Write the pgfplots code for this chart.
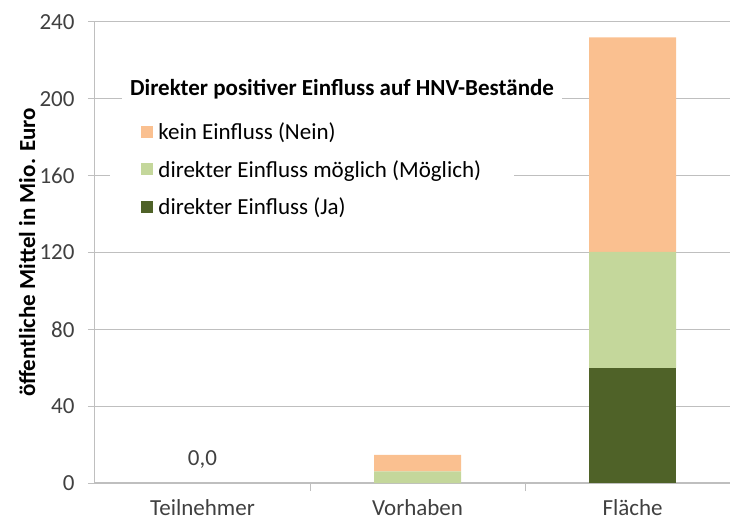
\documentclass[border=0pt]{standalone}
\usepackage{pgfplots}
\pgfplotsset{compat=1.18}
\usepackage{fontspec}
\setmainfont{Carlito}
\definecolor{nein}{HTML}{FAC090}
\definecolor{moegl}{HTML}{C4D79B}
\definecolor{ja}{HTML}{4F6228}
\definecolor{gridgray}{HTML}{BFBFBF}
\definecolor{ticktxt}{HTML}{404040}
\newcommand\cf{\fontsize{23bp}{27bp}\selectfont}

\begin{document}
\begin{tikzpicture}
\begin{axis}[
  name=ax,
  scale only axis,
  width=635bp, height=461bp,
  ybar stacked,
  bar width=87bp,
  xmin=-0.5, xmax=2.453, ymin=0, ymax=240,
  xtick={0,1,2},
  xticklabels={Teilnehmer,Vorhaben,Fläche},
  minor xtick={0.5,1.5},
  ytick={0,40,80,120,160,200,240},
  tick align=outside,
  major tick length=7bp, minor tick length=8bp,
  xtick style={draw=none},
  minor x tick style={draw=gridgray, line width=1bp},
  ytick style={draw=gridgray, line width=1bp},
  axis x line*=bottom, axis y line*=left,
  x axis line style={draw=gridgray, line width=1.6bp},
  y axis line style={draw=gridgray, line width=1bp},
  ymajorgrids,
  grid style={draw=gridgray, line width=1bp},
  /pgf/number format/assume math mode=true,
  tick label style={font=\cf, text=ticktxt},
  xticklabel style={yshift=-6bp},
  yticklabel style={xshift=-10bp},
  ylabel={öffentliche Mittel in Mio. Euro},
  ylabel style={at={(axis description cs:-0.107,0.5)}, anchor=center, font=\cf\bfseries},
  every axis plot/.append style={draw=none},
  reverse legend,
  legend cell align=left,
  legend style={at={(axis description cs:0.024,0.79)}, anchor=north west,
    draw=none, fill=white, font=\cf, row sep=15bp, inner xsep=31bp},
  legend image code/.code={\fill[#1] (0bp,-6bp) rectangle (12bp,6bp); \path (15bp,0bp);},
]
\addplot[fill=ja] coordinates {(0,0) (1,0) (2,60)};
\addplot[fill=moegl] coordinates {(0,0) (1,6.1) (2,60.3)};
\addplot[fill=nein] coordinates {(0,0) (1,8.5) (2,111.7)};
\legend{direkter Einfluss (Ja), direkter Einfluss möglich (Möglich), kein Einfluss (Nein)}
\node[font=\cf, text=ticktxt] at (axis cs:0,12) {0,0};
\node[fill=white, font=\cf\bfseries, inner xsep=8bp] at (axis cs:0.649,205) {Direkter positiver Einfluss auf HNV-Bestände};
\end{axis}
\pgfresetboundingbox
\path ([xshift=-95bp,yshift=-38bp]ax.south west) rectangle ([yshift=22bp]ax.north east);
\end{tikzpicture}
\end{document}
